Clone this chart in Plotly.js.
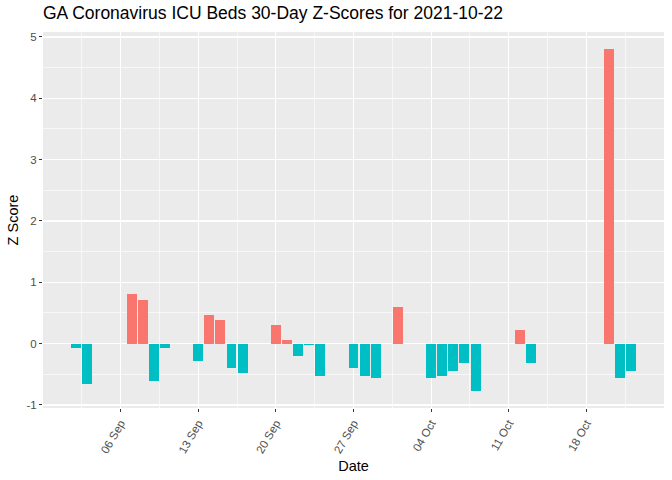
<!DOCTYPE html>
<html>
<head>
<meta charset="utf-8">
<script src="https://cdn.plot.ly/plotly-3.0.1.min.js"></script>
<style>html,body{margin:0;padding:0;background:#fff;}#chart{width:672px;height:480px;}</style>
</head>
<body>
<div id="chart"></div>
<script>
const dates = ['2021-09-02','2021-09-03','2021-09-07','2021-09-08','2021-09-09','2021-09-10',
  '2021-09-13','2021-09-14','2021-09-15','2021-09-16','2021-09-17',
  '2021-09-20','2021-09-21','2021-09-22','2021-09-23','2021-09-24',
  '2021-09-27','2021-09-28','2021-09-29','2021-10-01',
  '2021-10-04','2021-10-05','2021-10-06','2021-10-07','2021-10-08',
  '2021-10-12','2021-10-13','2021-10-20','2021-10-21','2021-10-22'];
const zScores = [-0.065,-0.66,0.81,0.71,-0.61,-0.07,
  -0.28,0.47,0.39,-0.40,-0.48,
  0.30,0.06,-0.20,-0.02,-0.53,
  -0.40,-0.53,-0.56,0.60,
  -0.56,-0.53,-0.45,-0.32,-0.77,
  0.22,-0.32,4.80,-0.56,-0.45];
const yTicks = [-1,0,1,2,3,4,5];

const DAY = 86400000;
const colors = zScores.map(v => v > 0 ? '#F8766D' : '#00BFC4');

const trace = {
  type: 'bar',
  x: dates,
  y: zScores,
  width: dates.map(() => 0.9*DAY),
  marker: {color: colors, line: {width: 0}},
  showlegend: false,
  hoverinfo: 'x+y'
};

const font = 'Liberation Sans, Arial, sans-serif';
const layout = {
  width: 672, height: 480,
  margin: {l: 43, r: 8, t: 32, b: 72, pad: 0},
  paper_bgcolor: '#ffffff',
  plot_bgcolor: '#EBEBEB',
  bargap: 0,
  title: {text: 'GA Coronavirus ICU Beds 30-Day Z-Scores for 2021-10-22',
    font: {family: font, size: 17.5, color: '#000'},
    x: 0, xref: 'paper', xanchor: 'left', y: 0.99, yref: 'container', yanchor: 'top', pad: {t: 2}},
  xaxis: {
    type: 'date',
    range: ['2021-08-30 00:10', '2021-10-24 23:50'],
    tick0: '2021-09-06', dtick: 7*DAY,
    tickformat: '%d %b',
    tickangle: -60,
    ticks: 'outside', ticklen: 3, tickwidth: 1, tickcolor: '#333333',
    tickfont: {family: font, size: 11.5, color: '#4D4D4D'},
    showgrid: true, gridcolor: '#ffffff', gridwidth: 1.2,
    minor: {tick0: '2021-09-02 12:00', dtick: 7*DAY, showgrid: true, gridcolor: '#ffffff', gridwidth: 0.6, ticks: ''},
    zeroline: false, showline: false,
    title: {text: 'Date', font: {family: font, size: 14.5, color: '#000'}, standoff: 6},
    fixedrange: true
  },
  yaxis: {
    range: [-1.05, 5.08],
    tickvals: yTicks,
    ticktext: yTicks.map(String),
    ticks: 'outside', ticklen: 3, tickwidth: 1, tickcolor: '#333333',
    tickfont: {family: font, size: 11.5, color: '#4D4D4D'},
    showgrid: true, gridcolor: '#ffffff', gridwidth: 1.2,
    minor: {tick0: 0.5, dtick: 1, showgrid: true, gridcolor: '#ffffff', gridwidth: 0.6, ticks: ''},
    zeroline: false, showline: false,
    title: {text: 'Z Score', font: {family: font, size: 14.5, color: '#000'}, standoff: 4},
    fixedrange: true
  }
};

Plotly.newPlot('chart', [trace], layout, {displayModeBar: false, staticPlot: true});
</script>
</body>
</html>
